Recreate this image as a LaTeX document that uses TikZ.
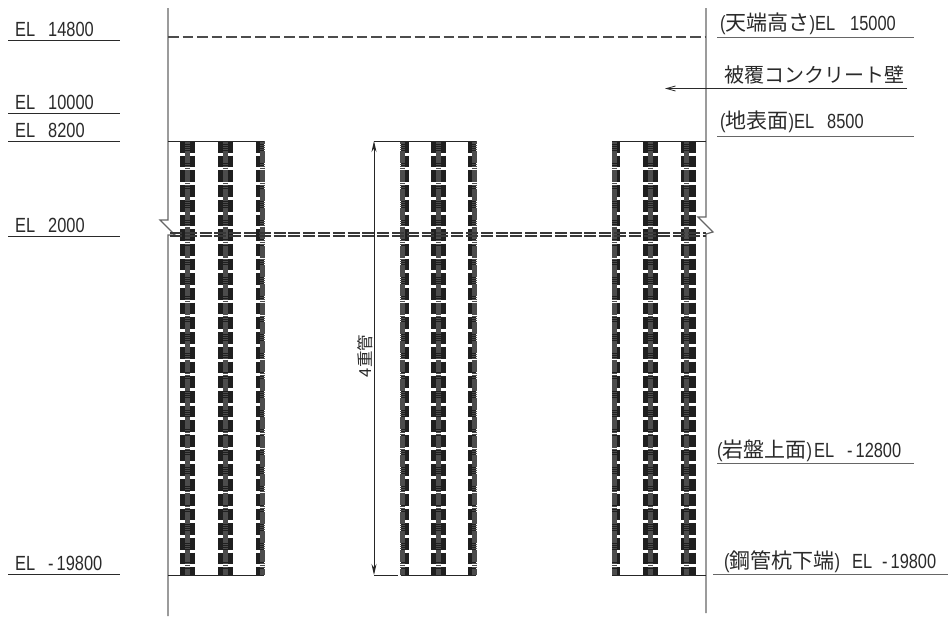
\documentclass[tikz,border=0pt]{standalone}
\usepackage{fontspec}
\usetikzlibrary{arrows.meta}
\setmainfont{Liberation Sans}
\newfontfamily\lat[FakeStretch=0.8]{Liberation Sans}
\newfontfamily\cj{Noto Sans CJK JP}
\newcommand{\gp}{\hspace{13pt}}
\newcommand{\jp}[1]{{\cj\fontsize{21}{22}\selectfont #1}}
\definecolor{ink}{HTML}{2A2A2A}
\definecolor{wall}{HTML}{666666}
\tikzset{
  x=1pt,y=-1pt,
  lbl/.style={anchor=base west,inner sep=0pt,text=ink,font=\lat\fontsize{20.5}{22}\selectfont},
  levelline/.style={draw=ink,line width=0.9pt},
  wallline/.style={draw=wall,line width=1.2pt},
  blockcol/.style={draw=black!88,dash pattern=on 11.7pt off 3pt,dash phase=0pt},
  spinecol/.style={draw=black!70,dash pattern=on 1.5pt off 0.4pt},
  dashband/.style={draw=black!78,line width=2pt,dash pattern=on 12pt off 2.8pt},
  dimline/.style={draw=black!85,line width=1pt},
}
\begin{document}
\begin{tikzpicture}
\useasboundingbox (0,0) rectangle (948,616);
% level coordinates
\foreach \n/\y in {la/40,lb/113,lc/141,ld/236,le/574}{
  \coordinate (\n1) at (8,\y); \coordinate (\n2) at (120,\y);
  \draw[levelline] (\n1) -- (\n2);
}
\node[lbl] (t1) at (15,36) {EL\gp 14800};
\node[lbl] (t2) at (15,109) {EL\gp 10000};
\node[lbl] (t3) at (15,137) {EL\gp 8200};
\node[lbl] (t4) at (15,232) {EL\gp 2000};
\node[lbl] (t5) at (15,570) {EL\gp -\hspace{3pt}19800};
% pipes
\foreach \c/\w in {187.5/15,225.5/15,260/8,405/8,438/15,472/8,616/8,650.5/15,688.5/15}{
  \draw[blockcol,line width=\w pt] (\c,141) -- (\c,575);
}
\foreach \s in {187.5,225.5,262,402,438,474,614,650.5,686}{
  \draw[spinecol,line width=5pt] (\s,141) -- (\s,575);
}
% walls with break marks
\coordinate (wl0) at (168,8); \coordinate (wl1) at (168,220); \coordinate (wl2) at (160,220);
\coordinate (wl3) at (175,235); \coordinate (wl4) at (168,235); \coordinate (wl5) at (168,616);
\draw[wallline] (wl0) -- (wl1) -- (wl2) -- (wl3) -- (wl4) -- (wl5);
\coordinate (wr0) at (706,8); \coordinate (wr1) at (706,217); \coordinate (wr2) at (698,217);
\coordinate (wr3) at (713,232); \coordinate (wr4) at (706,234); \coordinate (wr5) at (706,613);
\draw[wallline] (wr0) -- (wr1) -- (wr2) -- (wr3) -- (wr4) -- (wr5);
% dashed lines
\coordinate (ca) at (168,37); \coordinate (cb) at (706,37);
\draw[draw=black!70,line width=1.1pt,dash pattern=on 10.5pt off 4pt] (ca) -- (cb);
\foreach \y in {232.8,236.4}{
  \draw[dashband] (170,\y) -- (706,\y);
}
% pipe tops and bottoms
\foreach \y in {141,575}{
  \draw[draw=black!85,line width=1pt] (168,\y) -- (264,\y);
  \draw[draw=black!85,line width=1pt] (612,\y) -- (706,\y);
}
\coordinate (dt) at (374,141); \coordinate (db) at (374,575);
\draw[dimline] (dt) -- (476,141);
\draw[dimline] (db) -- (398,575);
\draw[dimline] (401,575) -- (476,575);
\draw[dimline,{Stealth[length=11pt,width=5pt]}-{Stealth[length=11pt,width=5pt]}] (dt) -- (db);
\node[inner sep=0pt,rotate=90,text=ink,font=\cj\fontsize{16.5}{17}\selectfont] (dimlabel) at (365,356) {4重管};
% right labels
\foreach \n/\xa/\xb/\y in {ra/717/914/37,rb/717/914/136.5,rc/717/914/463,rd/713/948/574.5}{
  \coordinate (\n1) at (\xa,\y); \coordinate (\n2) at (\xb,\y);
  \draw[draw=black!60,line width=1pt] (\n1) -- (\n2);
}
\node[lbl] (u1) at (720,30) {(\jp{天端高さ})EL\hspace{15pt}15000};
\node[lbl] (u2) at (720,128) {(\jp{地表面})EL\gp 8500};
\node[lbl] (u3) at (717,457) {(\jp{岩盤上面})\hspace{2pt}EL\gp -\hspace{3pt}12800};
\node[lbl] (u4) at (724,568) {(\jp{鋼管杭下端})\hspace{12pt}EL\hspace{10pt}-\hspace{3pt}19800};
\node[anchor=base,inner sep=0pt,text=ink,font=\cj\fontsize{20}{20}\selectfont] (u5) at (814,82) {被覆コンクリート壁};
\coordinate (ar0) at (907,88.5); \coordinate (ar1) at (665,88.5);
\draw[draw=ink,line width=0.8pt,-{Straight Barb[length=9pt,width=5pt]}] (ar0) -- (ar1);
\end{tikzpicture}
\end{document}
